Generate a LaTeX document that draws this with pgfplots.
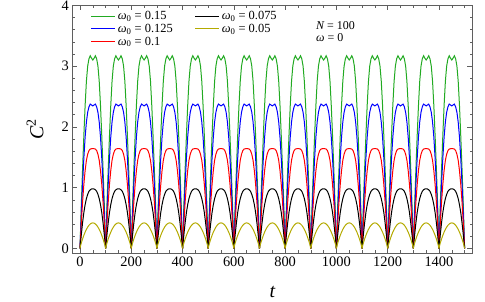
\documentclass[border=0pt]{standalone}
\usepackage{fontspec}
\setmainfont{Liberation Serif}
\usepackage{pgfplots}
\usepackage{pgfplotstable}
\pgfplotsset{compat=1.18}
\definecolor{mgreen}{RGB}{34,170,34}
\definecolor{myellow}{RGB}{180,170,0}
\definecolor{mframe}{RGB}{95,95,95}
% one period (t = 0 ... 100) of each series; the signal repeats with period 100
\pgfplotstableread{
t    g     b     r     k     y
0    0     0     0     0     0
2.5  0.35  0.28  0.20  0.11  0.048
5    0.70  0.55  0.40  0.22  0.087
10   1.30  1.05  0.76  0.42  0.155
15   1.85  1.48  1.05  0.59  0.215
20   2.35  1.83  1.28  0.72  0.268
25   2.75  2.08  1.45  0.82  0.313
30   3.00  2.24  1.55  0.89  0.351
35   3.12  2.33  1.61  0.94  0.381
40   3.17  2.375 1.635 0.965 0.402
45   3.13  2.36  1.64  0.978 0.416
50   3.10  2.345 1.64  0.98  0.420
55   3.13  2.36  1.64  0.978 0.416
60   3.17  2.375 1.635 0.965 0.402
65   3.12  2.33  1.61  0.94  0.381
70   3.00  2.24  1.55  0.89  0.351
75   2.75  2.08  1.45  0.82  0.313
80   2.35  1.83  1.28  0.72  0.268
85   1.85  1.48  1.05  0.59  0.215
90   1.30  1.05  0.76  0.42  0.155
95   0.70  0.55  0.40  0.22  0.087
97.5 0.35  0.28  0.20  0.11  0.048
100  0     0     0     0     0
}\period
\begin{document}
\begin{tikzpicture}
\begin{axis}[name=ax,
  scale only axis, width=400bp, height=248bp,
  xmin=-30, xmax=1530, ymin=-0.08, ymax=4,
  xtick={0,200,...,1400},
  minor xtick={50,100,150,250,300,350,450,500,550,650,700,750,850,900,950,1050,1100,1150,1250,1300,1350,1450,1500},
  ytick={0,1,2,3,4},
  minor ytick={0.2,0.4,0.6,0.8,1.2,1.4,1.6,1.8,2.2,2.4,2.6,2.8,3.2,3.4,3.6,3.8},
  xtick pos=both, ytick pos=both, xticklabel pos=lower, yticklabel pos=left,
  tick align=inside, major tick length=5bp, minor tick length=2.8bp,
  axis line style={mframe, line width=0.8bp},
  every tick/.style={mframe, line width=0.6bp},
  every minor tick/.style={mframe, line width=0.5bp},
  tick label style={font=\fontsize{14.5}{16}\selectfont, black},
  /pgf/number format/assume math mode=true,
  /pgf/number format/1000 sep={},
  xlabel={\itshape t},
  xlabel style={at={(axis description cs:0.5,-0.18)}, anchor=base, inner sep=0pt, font=\fontsize{20}{24}\selectfont},
  ylabel={{\itshape C}\textsuperscript{2}},
  ylabel style={at={(axis description cs:-0.093,0.5)}, anchor=center, inner sep=0pt, font=\fontsize{20}{24}\selectfont},
  legend cell align=left,
  legend columns=2,
  legend image code/.code={\draw[#1, line width=1bp] (0bp,0bp) -- (15bp,0bp); \path (0bp,0bp) -- (24bp,0bp);},
  legend style={at={(axis description cs:0.046,0.985)}, anchor=north west,
    draw=none, fill=none, inner sep=0pt,
    font=\fontsize{12.5}{13}\selectfont,
    row sep=-1bp,
    /tikz/every even column/.append style={column sep=20bp}},
  every axis plot/.append style={line width=1bp},
]
\addlegendimage{mgreen}
\addlegendentry{{\itshape ω}\textsubscript{0} = 0.15}
\addlegendimage{black}
\addlegendentry{{\itshape ω}\textsubscript{0} = 0.075}
\addlegendimage{blue}
\addlegendentry{{\itshape ω}\textsubscript{0} = 0.125}
\addlegendimage{myellow}
\addlegendentry{{\itshape ω}\textsubscript{0} = 0.05}
\addlegendimage{red}
\addlegendentry{{\itshape ω}\textsubscript{0} = 0.1}
\pgfplotsinvokeforeach{0,...,14}{
  \addplot[mgreen, forget plot] table[x expr=\thisrow{t}+100*#1, y=g] {\period};
}
\pgfplotsinvokeforeach{0,...,14}{
  \addplot[blue, forget plot] table[x expr=\thisrow{t}+100*#1, y=b] {\period};
}
\pgfplotsinvokeforeach{0,...,14}{
  \addplot[red, forget plot] table[x expr=\thisrow{t}+100*#1, y=r] {\period};
}
\pgfplotsinvokeforeach{0,...,14}{
  \addplot[black, forget plot] table[x expr=\thisrow{t}+100*#1, y=k] {\period};
}
\pgfplotsinvokeforeach{0,...,14}{
  \addplot[myellow, forget plot] table[x expr=\thisrow{t}+100*#1, y=y] {\period};
}
\end{axis}
\node[anchor=base west, inner sep=0pt, font=\fontsize{12}{12}\selectfont]
  at ([xshift=243.7bp,yshift=-24bp]ax.north west) {\itshape N\upshape\ = 100};
\node[anchor=base west, inner sep=0pt, font=\fontsize{12}{12}\selectfont]
  at ([xshift=243.7bp,yshift=-36bp]ax.north west) {\itshape ω\upshape\ = 0};
\pgfresetboundingbox
\path[use as bounding box] ([xshift=-72.3bp,yshift=-48.7bp]ax.south west) rectangle ([xshift=12.7bp,yshift=5.3bp]ax.north east);
\end{tikzpicture}
\end{document}
